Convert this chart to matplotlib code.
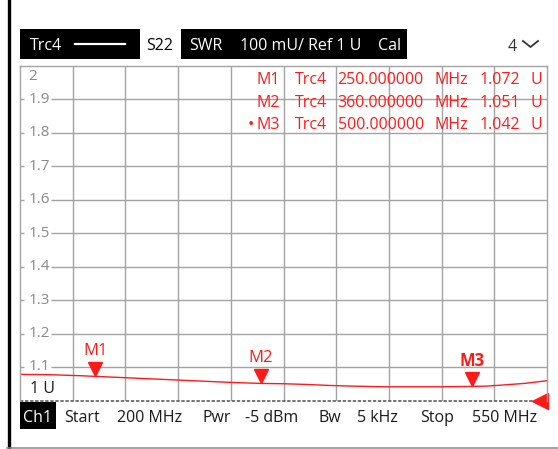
import numpy as np
import matplotlib
matplotlib.use("Agg")
import matplotlib.pyplot as plt
from matplotlib.patches import Rectangle
from matplotlib.lines import Line2D
from matplotlib.transforms import offset_copy

plt.rcParams['font.family'] = ['Open Sans', 'DejaVu Sans']

# Trace 4, S22 as SWR
freq_mhz = [200, 220, 240, 250, 265, 280, 295, 310, 325, 340, 360, 375, 390,
            405, 420, 440, 460, 480, 500, 510, 520, 535, 550]
swr = [1.078, 1.077, 1.074, 1.072, 1.069, 1.066, 1.063, 1.060, 1.057, 1.054,
       1.051, 1.050, 1.048, 1.045, 1.043, 1.041, 1.041, 1.041, 1.042, 1.043,
       1.046, 1.051, 1.059]

marker_names = ["M1", "M2", "M3"]
marker_freq = [250.0, 360.0, 500.0]
marker_swr = [1.072, 1.051, 1.042]

start_mhz = 200
stop_mhz = 550
ref_level = 1.0
per_div = 0.1
n_div = 10
y_tick_vals = [1.1, 1.2, 1.3, 1.4, 1.5, 1.6, 1.7, 1.8, 1.9]

header_items = ["Trc4", "S22", "SWR", "100 mU/ Ref 1 U", "Cal"]
footer_items = ["Start", "200 MHz", "Pwr", "-5 dBm", "Bw", "5 kHz", "Stop", "550 MHz"]

RED = '#ff1a1a'
GRID = '#a3a3a3'
INK = '#1a1a1a'
FS = 11.5

W, H = 558, 449
fig = plt.figure(figsize=(W / 100, H / 100), dpi=100)


def fx(x):
    return x / W


def fy(y):
    return 1 - y / H


def label(x, yc, s, size=FS, color=INK, ha='left', **kw):
    # put the text so that its cap height is centred on yc (pixels from top)
    px = size * 100 / 72
    fig.text(fx(x), fy(yc + 0.357 * px), s, fontsize=size, color=color,
             ha=ha, va='baseline', **kw)


# outer frame of the screen
fig.add_artist(Line2D([fx(8.5), fx(8.5)], [fy(0), fy(447)], color='black', lw=2.4))
fig.add_artist(Line2D([fx(7), fx(558)], [fy(447.5), fy(447.5)], color='#8a8a8a', lw=1.1))

# header bar
fig.add_artist(Rectangle((fx(20), fy(58.5)), fx(407) - fx(20), fy(29) - fy(58.5),
                         transform=fig.transFigure, facecolor='black', edgecolor='none'))
fig.add_artist(Rectangle((fx(139.5), fy(58.5)), fx(181) - fx(139.5), fy(29) - fy(58.5),
                         transform=fig.transFigure, facecolor='white', edgecolor='none'))
label(30, 44, header_items[0], color='white')
fig.add_artist(Line2D([fx(75), fx(125)], [fy(44), fy(44)], color='white', lw=1.6))
label(160, 44, header_items[1], color='black', ha='center')
label(189, 44, header_items[2], color='white')
label(240, 44, header_items[3], color='white')
label(378, 44, header_items[4], color='white')
label(508, 45, "4", color='#333333')
fig.add_artist(Line2D([fx(523), fx(530.5), fx(538)], [fy(41), fy(47), fy(41)],
                      color='#333333', lw=1.3))

# diagram area
ax = fig.add_axes([fx(20), fy(400.5), 527 / W, 335 / H])
ax.set_xlim(start_mhz, stop_mhz)
ax.set_ylim(ref_level, ref_level + n_div * per_div)
ax.set_xticks([])
ax.set_yticks([])
for side in ['left', 'top', 'right']:
    ax.spines[side].set_color(GRID)
    ax.spines[side].set_linewidth(1.0)
ax.spines['bottom'].set_visible(False)

x_div = [start_mhz + i * (stop_mhz - start_mhz) / n_div for i in range(1, n_div)]
ax.vlines(x_div, ref_level, ref_level + n_div * per_div, color=GRID, lw=1.0)
ax.hlines(y_tick_vals, 0.058, 1.0, transform=ax.get_yaxis_transform(), color=GRID, lw=1.0)
ax.hlines(y_tick_vals, 0.0, 0.0076, transform=ax.get_yaxis_transform(), color=GRID, lw=1.0)
for v in y_tick_vals:
    ax.text(0.017, v, "%.1f" % v, transform=ax.get_yaxis_transform(),
            fontsize=11, color='#8a8a8a', ha='left', va='center')
ax.text(0.015, 0.968, "2", transform=ax.transAxes, fontsize=11, color='#8a8a8a',
        ha='left', va='center')
ax.text(0.019, 0.033, "1 U", transform=ax.transAxes, fontsize=11.5, color=INK,
        ha='left', va='center')

# reference line
ax.axhline(ref_level, color='#505050', lw=1.1, ls=(0, (2.2, 1.1)), clip_on=False)

# trace
ax.plot(freq_mhz, swr, color=RED, lw=1.0)

# markers
tri = offset_copy(ax.transData, fig=fig, x=0, y=7, units='dots')
ax.plot(marker_freq, marker_swr, 'v', color=RED, markersize=10, transform=tri,
        clip_on=False)
for i, (name, f, v) in enumerate(zip(marker_names, marker_freq, marker_swr)):
    ax.annotate(name, (f, v), xytext=(0, 18), textcoords='offset points',
                ha='center', va='center', fontsize=12, color=RED,
                fontweight='bold' if i == len(marker_names) - 1 else 'normal')

# reference level arrow at the right edge
ref_tri = offset_copy(ax.transData, fig=fig, x=-7.5, y=0, units='dots')
ax.plot([stop_mhz], [ref_level], '<', color=RED, markersize=11, transform=ref_tri,
        clip_on=False)

# marker table
row_y = [78, 101, 123.5]
for i, (name, f, v) in enumerate(zip(marker_names, marker_freq, marker_swr)):
    yc = row_y[i]
    label(280, yc, name, color=RED, ha='right')
    label(295, yc, "Trc4", color=RED)
    label(424, yc, "%.6f" % f, color=RED, ha='right')
    label(435, yc, "MHz", color=RED)
    label(520, yc, "%.3f" % v, color=RED, ha='right')
    label(530, yc, "U", color=RED)
    if i == len(marker_names) - 1:
        label(250.5, yc, "\u2022", color=RED, ha='center', size=12)

# channel bar
fig.add_artist(Rectangle((fx(20), fy(429)), fx(55.7) - fx(20), fy(402.3) - fy(429),
                         transform=fig.transFigure, facecolor='black', edgecolor='none'))
label(37.8, 416.5, "Ch1", color='white', ha='center')
footer_x = [64, 117, 203, 245, 318, 357, 420, 472]
for x, s in zip(footer_x, footer_items):
    label(x, 416.5, s)

fig.savefig("out.png", dpi=100)
